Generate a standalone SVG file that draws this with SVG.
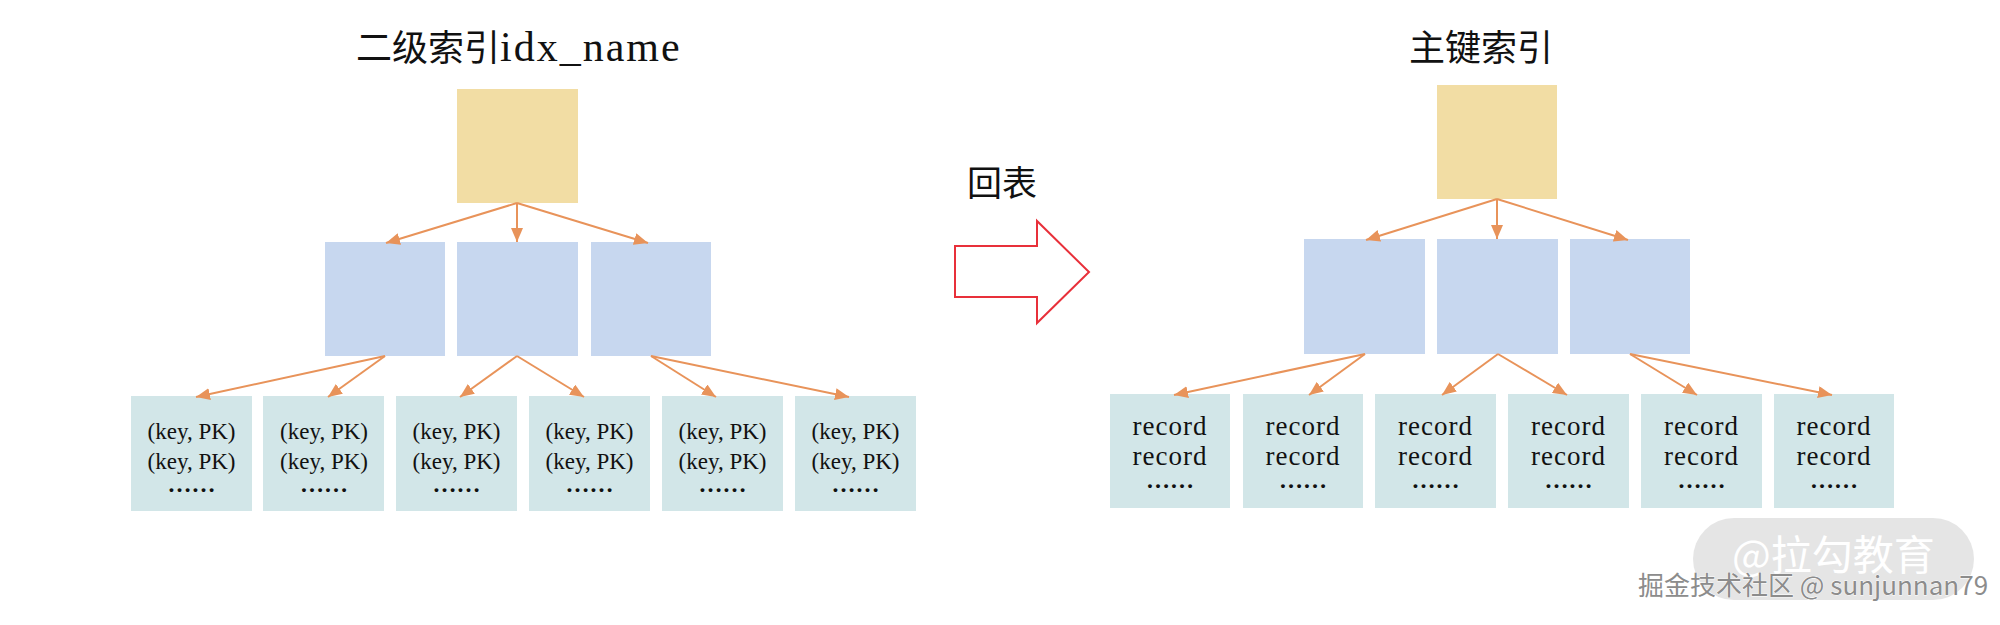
<svg xmlns="http://www.w3.org/2000/svg" width="2000" height="625" viewBox="0 0 2000 625">
<style>
.root{fill:#F2DDA4}
.mid{fill:#C7D7EF}
.leaf{fill:#D2E6E8}
.cjk{font-family:"Noto Sans CJK SC","Noto Sans",sans-serif;fill:#111}
.lt{font-family:"Liberation Serif","Noto Sans CJK SC",serif;fill:#111;text-anchor:middle}
.k{font-size:23px}
.r{font-size:27px;letter-spacing:1px}
.d{font-size:24px;font-weight:bold}
.conn line{stroke:#E8935A;stroke-width:2;fill:none}
</style>
<defs>
<marker id="ah" viewBox="0 0 14 12" refX="14" refY="6" markerWidth="14" markerHeight="12" orient="auto" markerUnits="userSpaceOnUse">
<path d="M0,0 L14,6 L0,12 z" fill="#E8935A"/>
</marker>
</defs>
<rect width="2000" height="625" fill="#fff"/>

<!-- Titles -->
<text id="title-left" x="356" y="61"><tspan class="cjk" font-size="36">二级索引</tspan><tspan font-family="Liberation Serif, serif" font-size="42" letter-spacing="2" fill="#111">idx_name</tspan></text>
<text id="title-right" class="cjk" x="1409" y="61" font-size="36">主键索引</text>

<!-- Left tree -->
<g id="l-root"><rect class="root" x="457" y="89" width="121" height="114"/></g>
<g id="l-mid1"><rect class="mid" x="325" y="242" width="120" height="114"/></g>
<g id="l-mid2"><rect class="mid" x="457" y="242" width="121" height="114"/></g>
<g id="l-mid3"><rect class="mid" x="591" y="242" width="120" height="114"/></g>

<g id="l-leaf1"><rect class="leaf" x="131" y="396" width="121" height="115"/>
<text class="lt k" x="191.5" y="439">(key, PK)</text><text class="lt k" x="191.5" y="469">(key, PK)</text><text class="lt d" x="191.5" y="492">……</text></g>
<g id="l-leaf2"><rect class="leaf" x="263" y="396" width="121" height="115"/>
<text class="lt k" x="324" y="439">(key, PK)</text><text class="lt k" x="324" y="469">(key, PK)</text><text class="lt d" x="324" y="492">……</text></g>
<g id="l-leaf3"><rect class="leaf" x="396" y="396" width="121" height="115"/>
<text class="lt k" x="456.5" y="439">(key, PK)</text><text class="lt k" x="456.5" y="469">(key, PK)</text><text class="lt d" x="456.5" y="492">……</text></g>
<g id="l-leaf4"><rect class="leaf" x="529" y="396" width="121" height="115"/>
<text class="lt k" x="589.5" y="439">(key, PK)</text><text class="lt k" x="589.5" y="469">(key, PK)</text><text class="lt d" x="589.5" y="492">……</text></g>
<g id="l-leaf5"><rect class="leaf" x="662" y="396" width="121" height="115"/>
<text class="lt k" x="722.5" y="439">(key, PK)</text><text class="lt k" x="722.5" y="469">(key, PK)</text><text class="lt d" x="722.5" y="492">……</text></g>
<g id="l-leaf6"><rect class="leaf" x="795" y="396" width="121" height="115"/>
<text class="lt k" x="855.5" y="439">(key, PK)</text><text class="lt k" x="855.5" y="469">(key, PK)</text><text class="lt d" x="855.5" y="492">……</text></g>

<!-- Right tree -->
<g id="r-root"><rect class="root" x="1437" y="85" width="120" height="114"/></g>
<g id="r-mid1"><rect class="mid" x="1304" y="239" width="121" height="115"/></g>
<g id="r-mid2"><rect class="mid" x="1437" y="239" width="121" height="115"/></g>
<g id="r-mid3"><rect class="mid" x="1570" y="239" width="120" height="115"/></g>

<g id="r-leaf1"><rect class="leaf" x="1110" y="394" width="120" height="114"/>
<text class="lt r" x="1170" y="435">record</text><text class="lt r" x="1170" y="465">record</text><text class="lt d" x="1170" y="488">……</text></g>
<g id="r-leaf2"><rect class="leaf" x="1243" y="394" width="120" height="114"/>
<text class="lt r" x="1303" y="435">record</text><text class="lt r" x="1303" y="465">record</text><text class="lt d" x="1303" y="488">……</text></g>
<g id="r-leaf3"><rect class="leaf" x="1375" y="394" width="121" height="114"/>
<text class="lt r" x="1435.5" y="435">record</text><text class="lt r" x="1435.5" y="465">record</text><text class="lt d" x="1435.5" y="488">……</text></g>
<g id="r-leaf4"><rect class="leaf" x="1508" y="394" width="121" height="114"/>
<text class="lt r" x="1568.5" y="435">record</text><text class="lt r" x="1568.5" y="465">record</text><text class="lt d" x="1568.5" y="488">……</text></g>
<g id="r-leaf5"><rect class="leaf" x="1641" y="394" width="121" height="114"/>
<text class="lt r" x="1701.5" y="435">record</text><text class="lt r" x="1701.5" y="465">record</text><text class="lt d" x="1701.5" y="488">……</text></g>
<g id="r-leaf6"><rect class="leaf" x="1774" y="394" width="120" height="114"/>
<text class="lt r" x="1834" y="435">record</text><text class="lt r" x="1834" y="465">record</text><text class="lt d" x="1834" y="488">……</text></g>

<!-- Connectors -->
<g id="connectors" class="conn">
<line x1="517" y1="203" x2="386" y2="243" marker-end="url(#ah)"/>
<line x1="517" y1="203" x2="517" y2="242" marker-end="url(#ah)"/>
<line x1="517" y1="203" x2="648" y2="243" marker-end="url(#ah)"/>
<line x1="385" y1="356" x2="196" y2="397" marker-end="url(#ah)"/>
<line x1="385" y1="356" x2="328" y2="397" marker-end="url(#ah)"/>
<line x1="517" y1="356" x2="460" y2="397" marker-end="url(#ah)"/>
<line x1="517" y1="356" x2="584" y2="397" marker-end="url(#ah)"/>
<line x1="651" y1="356" x2="716" y2="397" marker-end="url(#ah)"/>
<line x1="651" y1="356" x2="849" y2="397" marker-end="url(#ah)"/>

<line x1="1497" y1="199" x2="1366" y2="240" marker-end="url(#ah)"/>
<line x1="1497" y1="199" x2="1497" y2="239" marker-end="url(#ah)"/>
<line x1="1497" y1="199" x2="1628" y2="240" marker-end="url(#ah)"/>
<line x1="1365" y1="354" x2="1174" y2="395" marker-end="url(#ah)"/>
<line x1="1365" y1="354" x2="1309" y2="395" marker-end="url(#ah)"/>
<line x1="1498" y1="354" x2="1442" y2="395" marker-end="url(#ah)"/>
<line x1="1498" y1="354" x2="1567" y2="395" marker-end="url(#ah)"/>
<line x1="1630" y1="354" x2="1697" y2="395" marker-end="url(#ah)"/>
<line x1="1630" y1="354" x2="1832" y2="395" marker-end="url(#ah)"/>
</g>

<!-- 回表 block arrow -->
<g id="back-to-table">
<text class="cjk" x="967" y="196" font-size="35" font-weight="400">回表</text>
<polygon points="955,246 1037,246 1037,221 1089,272 1037,323 1037,297 955,297" fill="#fff" stroke="#E8303A" stroke-width="2"/>
</g>

<!-- Watermarks -->
<g id="watermark">
<rect x="1693" y="518" width="281" height="82" rx="41" fill="#E2E2E2" opacity="0.9"/>
<text class="cjk" x="1732" y="570" font-size="41" style="fill:#fff">@拉勾教育</text>
<text x="1638" y="595" font-size="26" font-family="Noto Sans CJK SC, Noto Sans, sans-serif" fill="#8c8c8c" stroke="#fff" stroke-width="0.8" paint-order="stroke">掘金技术社区 @ sunjunnan79</text>
</g>
</svg>
